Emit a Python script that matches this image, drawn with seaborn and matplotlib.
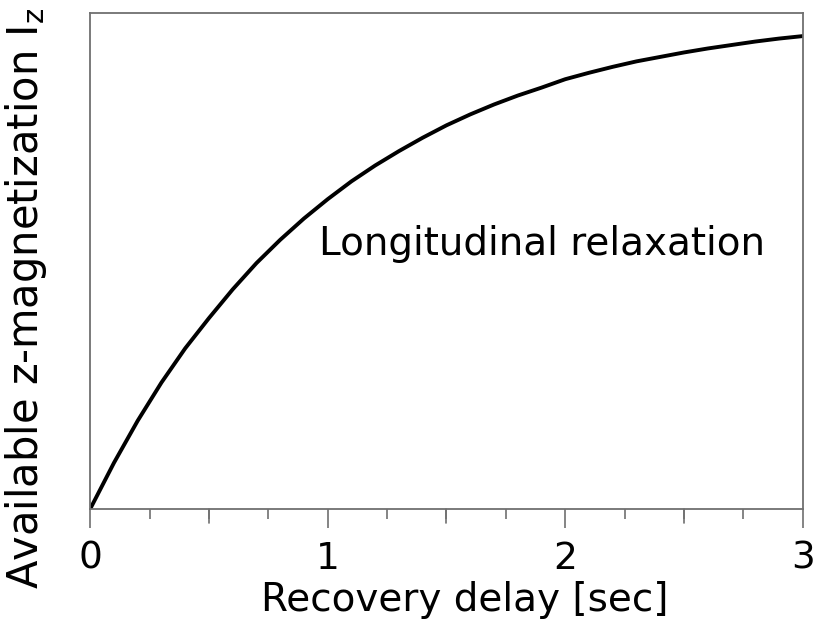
import numpy as np
import pandas as pd
import matplotlib
matplotlib.use("Agg")
import matplotlib.pyplot as plt
import seaborn as sns
from matplotlib.ticker import MultipleLocator

# values
delay = [0.0, 0.1, 0.2, 0.3, 0.4, 0.5, 0.6, 0.7, 0.8, 0.9, 1.0,
         1.1, 1.2, 1.3, 1.4, 1.5, 1.6, 1.7, 1.8, 1.9, 2.0,
         2.1, 2.2, 2.3, 2.4, 2.5, 2.6, 2.7, 2.8, 2.9, 3.0]
mag_z = [0.000, 0.093, 0.178, 0.255, 0.324, 0.385, 0.443, 0.496, 0.543, 0.586, 0.625,
         0.661, 0.693, 0.722, 0.749, 0.774, 0.796, 0.816, 0.834, 0.850, 0.867,
         0.880, 0.892, 0.903, 0.912, 0.921, 0.929, 0.936, 0.943, 0.949, 0.954]
xtick_labels = ["0", "1", "2", "3"]

df = pd.DataFrame({"delay": delay, "mag": mag_z})

sns.set_style("white")
plt.rcParams["font.family"] = ["DejaVu Sans"]
plt.rcParams["mathtext.default"] = "regular"
plt.rcParams["text.color"] = "black"
plt.rcParams["axes.labelcolor"] = "black"
plt.rcParams["xtick.color"] = "black"

fig = plt.figure(figsize=(8.2, 6.33), dpi=100)
ax = fig.add_axes([0.11, 0.196, 0.869, 0.783])

sns.lineplot(data=df, x="delay", y="mag", color="black", linewidth=2.8, ax=ax)

ax.set_xlim(0, 3)
ax.set_ylim(0, 1)
ax.set_yticks([])
ax.set_xticks([0, 1, 2, 3])
ax.set_xticklabels(xtick_labels, fontsize=27)
ax.xaxis.set_minor_locator(MultipleLocator(0.25))
ax.tick_params(axis="x", which="major", bottom=True, length=14, width=1.2,
               color="#707070", labelcolor="black", pad=9)
ax.tick_params(axis="x", which="minor", bottom=True, length=7, width=1.2,
               color="#707070")
# half-second ticks a bit longer than the quarter ones
for t in [0.5, 1.5, 2.5]:
    ax.plot([t, t], [0, -0.028], color="#707070", lw=1.2, clip_on=False)

for s in ax.spines.values():
    s.set_color("#707070")
    s.set_linewidth(1.3)

ax.set_xlabel("Recovery delay [sec]", fontsize=28, color="black")
ax.xaxis.set_label_coords(0.525, -0.145)
ax.set_ylabel("Available z-magnetization I$_z$", fontsize=30, color="black")
ax.yaxis.set_label_coords(-0.058, 0.425)

ax.text(1.9, 0.535, "Longitudinal relaxation", fontsize=28,
        ha="center", va="center", color="black")

fig.savefig("out.png", dpi=100)
